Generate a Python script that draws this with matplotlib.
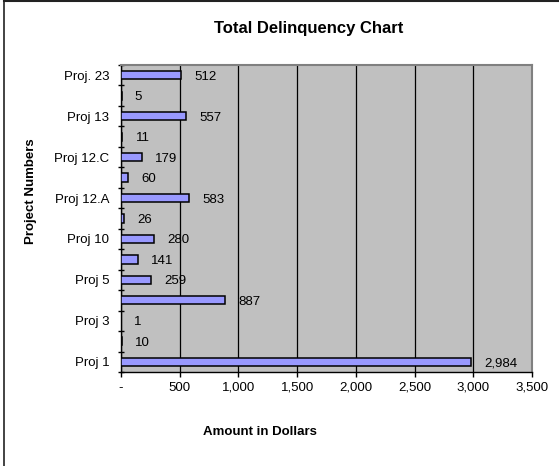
import matplotlib
matplotlib.use("Agg")
from matplotlib import pyplot as plt
from matplotlib.lines import Line2D

plt.rcParams['font.family'] = ['Liberation Sans', 'DejaVu Sans']

# bottom to top, as drawn in the chart
projects = ["Proj 1", "", "Proj 3", "", "Proj 5", "", "Proj 10", "",
            "Proj 12.A", "", "Proj 12.C", "", "Proj 13", "", "Proj. 23"]
amounts = [2984, 10, 1, 887, 259, 141, 280, 26, 583, 60, 179, 11, 557, 5, 512]
x_ticks = [0, 500, 1000, 1500, 2000, 2500, 3000, 3500]

W, H = 559, 466
fig = plt.figure(figsize=(W / 100, H / 100), dpi=100)
fig.patch.set_facecolor("white")

# outer chart frame (only left and top edges fall inside the picture)
fig.add_artist(Line2D([4 / W, 4 / W], [0, 1 - 0.5 / H], color="#222222", lw=1.2))
fig.add_artist(Line2D([4 / W, 1], [1 - 0.8 / H, 1 - 0.8 / H], color="#222222", lw=1.5))

ax = fig.add_axes([121 / W, 1 - 372 / H, (532 - 121) / W, (372 - 65) / H])
ax.set_facecolor("#C0C0C0")

pos = list(range(len(amounts)))
ax.barh(pos, amounts, height=0.4, color="#9999FF", edgecolor="black", linewidth=1.1, zorder=3)

for p, v in zip(pos, amounts):
    ax.annotate(f"{v:,}", xy=(v, p), xytext=(9.5, 0), textcoords="offset points",
                ha="left", va="center_baseline", fontsize=9.5, zorder=4)

ax.set_xlim(0, 3500)
ax.set_ylim(-0.5, len(amounts) - 0.5)

ax.set_xticks(x_ticks)
ax.set_xticklabels(["-" if t == 0 else f"{t:,}" for t in x_ticks])
ax.xaxis.grid(True, color="black", linewidth=0.9, zorder=1)
ax.set_axisbelow(True)

ax.set_yticks(pos)
ax.set_yticklabels(projects)
ax.set_yticks([p - 0.5 for p in range(len(amounts) + 1)], minor=True)
ax.tick_params(axis="y", which="major", length=0, pad=8.5, labelsize=9.5)
ax.tick_params(axis="y", which="minor", length=5, direction="inout", width=1)
ax.tick_params(axis="x", which="major", length=3.5, direction="out", width=1, pad=3.5, labelsize=9.5)

for side in ["top", "right"]:
    ax.spines[side].set_color("#808080")
    ax.spines[side].set_linewidth(1.5)
for side in ["left", "bottom"]:
    ax.spines[side].set_color("black")
    ax.spines[side].set_linewidth(1.0)

fig.text(309 / W, 1 - 28 / H, "Total Delinquency Chart", ha="center", va="center",
         fontsize=12, fontweight="bold")
fig.text(260 / W, 1 - 432 / H, "Amount in Dollars", ha="center", va="center",
         fontsize=9.5, fontweight="bold")
fig.text(31 / W, 1 - 191 / H, "Project Numbers", ha="center", va="center",
         rotation=90, fontsize=9.5, fontweight="bold")

fig.savefig("out.png", dpi=100)
